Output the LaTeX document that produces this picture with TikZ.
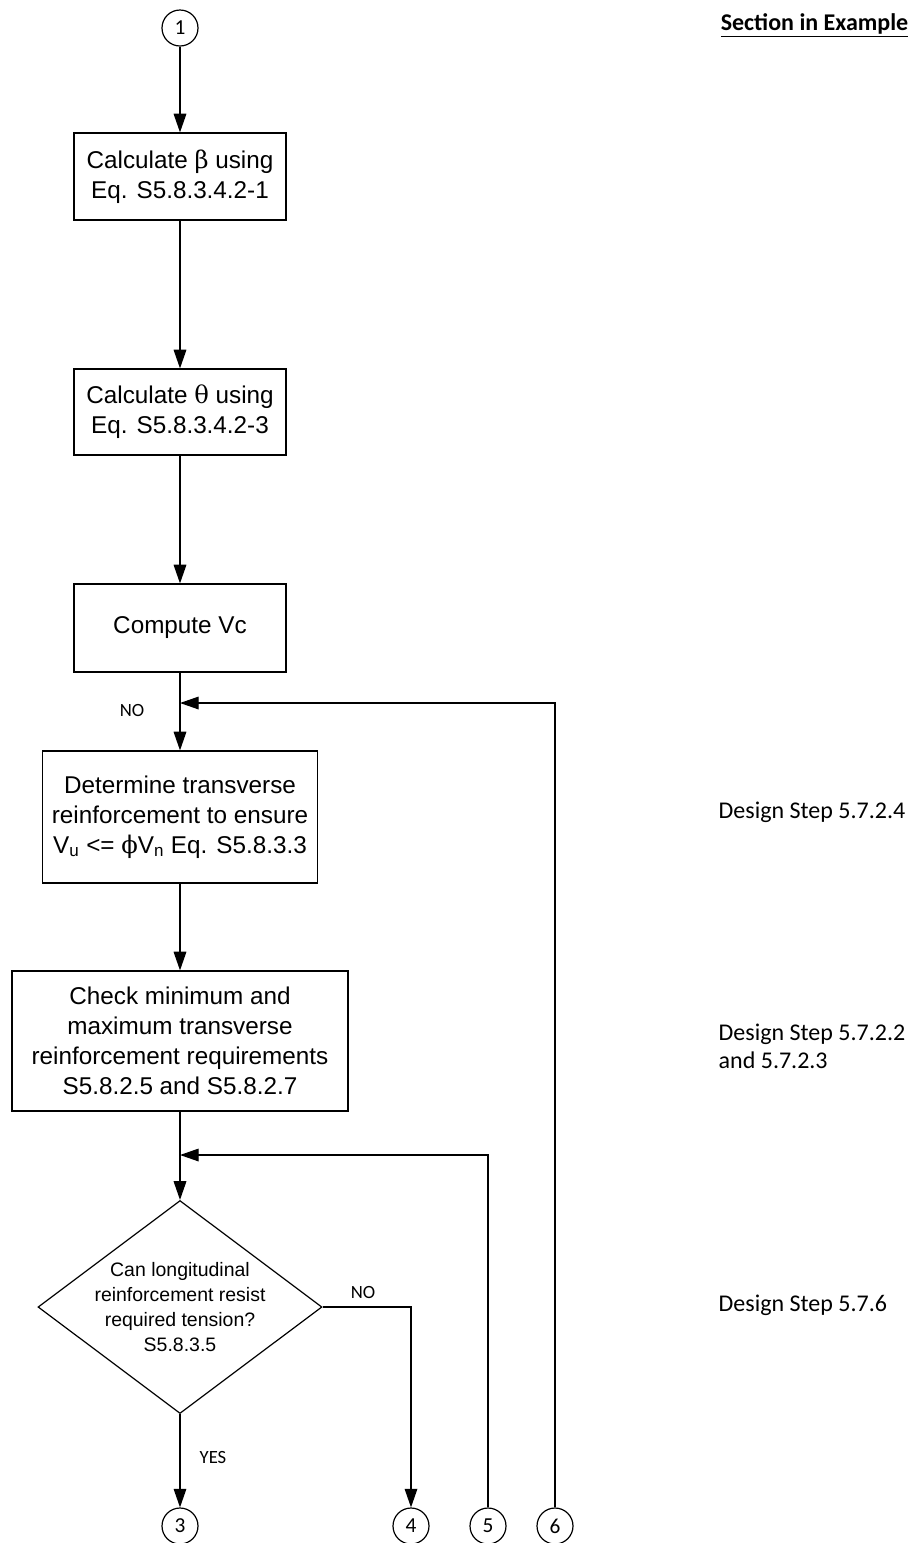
\documentclass[tikz,border=0pt]{standalone}
\usepackage{fontspec}
\setmainfont{Carlito}
\newfontfamily\arialfont{Liberation Sans}
\newfontfamily\greekfont{DejaVu Serif}
\usetikzlibrary{positioning,arrows.meta,shapes.geometric}
\newcommand{\gk}[1]{{\greekfont #1}}

\begin{document}
\begin{tikzpicture}[x=0.75pt, y=-0.75pt,
  proc/.style={draw, line width=0.9pt, align=center, inner sep=0pt, font=\arialfont\fontsize{18.2}{22.5}\selectfont},
  decision/.style={draw, diamond, line width=0.9pt, inner sep=0pt, minimum width=213pt, minimum height=159.75pt},
  conn/.style={draw, circle, line width=0.9pt, inner sep=0pt, minimum size=27pt, font=\fontsize{16}{19}\selectfont},
  lbl/.style={font=\fontsize{14}{16}\selectfont},
  side/.style={anchor=west, align=left, font=\fontsize{18}{21}\selectfont},
  arr/.style={-{Triangle[length=14pt,width=9.5pt]}, line width=0.9pt}]
  \useasboundingbox (0,0) rectangle (919,1543);

  \node[conn] (c1) at (180,28) {1};
  \node[proc, minimum width=159pt, minimum height=65.25pt] (beta) at (180,176.5) {Calculate \gk{β} using\\Eq. S5.8.3.4.2-1};
  \node[proc, minimum width=159pt, minimum height=64.5pt] (theta) at (180,412) {Calculate \gk{θ} using\\Eq. S5.8.3.4.2-3};
  \node[proc, minimum width=159pt, minimum height=66pt] (vc) at (180,628) {Compute Vc};
  \node[proc, minimum width=206.25pt, minimum height=99pt] (trans) at (180,817) {Determine transverse\\reinforcement to ensure\\V\textsubscript{u} <= \gk{ϕ}V\textsubscript{n} Eq. S5.8.3.3};
  \node[proc, minimum width=252pt, minimum height=105pt] (minmax) at (180,1041) {Check minimum and\\maximum transverse\\reinforcement requirements\\S5.8.2.5 and S5.8.2.7};
  \node[decision] (tens) at (180,1307) {};
  \node[font=\arialfont\fontsize{14.6}{18.75}\selectfont, align=center] (tenstxt) at (tens) {Can longitudinal\\reinforcement resist\\required tension?\\S5.8.3.5};

  \node[conn] (c3) at (180,1526) {3};
  \node[conn] (c4) at (411,1526) {4};
  \node[conn] (c5) at (488,1526) {5};
  \node[conn] (c6) at (555,1526) {6};
  \coordinate (j1) at (180,703);
  \coordinate (j2) at (180,1155);

  \draw[arr] (c1) -- (beta);
  \draw[arr] (beta) -- (theta);
  \draw[arr] (theta) -- (vc);
  \draw[arr] (vc) -- (trans);
  \draw[arr] (c6.north) |- (j1);
  \draw[arr] (trans) -- (minmax);
  \draw[arr] (minmax) -- (tens);
  \draw[arr] (c5.north) |- (j2);
  \draw[arr] (tens) -- (c3);
  \draw[arr] (tens.east) -| (c4.north);

  \node[lbl] (no1) at (132,710) {NO};
  \node[lbl] (no2) at (363,1292) {NO};
  \node[lbl] (yes) at (213,1457) {YES};

  \node[anchor=east, font=\bfseries\fontsize{18}{21}\selectfont] (sec) at (913,25) {\underline{Section in Example}};
  \node[side] (ds1) at (714,812) {Design Step 5.7.2.4};
  \node[side] (ds2) at (714,1046) {Design Step 5.7.2.2\\and 5.7.2.3};
  \node[side] (ds3) at (714,1305) {Design Step 5.7.6};
\end{tikzpicture}
\end{document}
